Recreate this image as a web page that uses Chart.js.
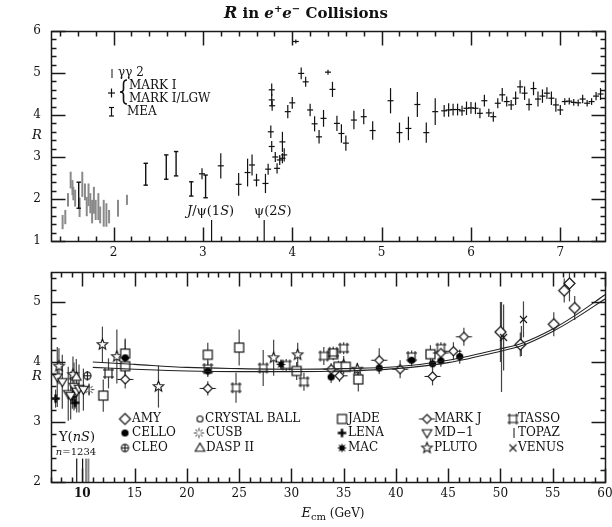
<!DOCTYPE html>
<html>
<head>
<meta charset="utf-8">
<title>R in e+e- Collisions</title>
<script src="https://cdn.jsdelivr.net/npm/chart.js@4.4.1/dist/chart.umd.min.js"></script>
<style>
  body { margin: 0; background: #fff; }
  #wrap { position: relative; width: 612px; height: 527px; }
  canvas { position: absolute; left: 0; }
  #top { top: 0; }
  #bottom { top: 262px; }
</style>
</head>
<body>
<div id="wrap">
  <canvas id="top" width="612" height="262"></canvas>
  <canvas id="bottom" width="612" height="265"></canvas>
</div>
<script>
// ---------- top panel, E from 1.3 to 7.5 GeV, rows are [E, R, error] ----------
const gg2 = [[1.43,1.45,0.17],[1.46,1.57,0.17],[1.49,1.98,0.16],[1.52,2.45,0.20],[1.54,2.27,0.18],
  [1.55,2.13,0.16],[1.57,2.02,0.20],[1.62,1.80,0.23],[1.65,2.35,0.30],[1.68,2.17,0.20],
  [1.70,1.82,0.23],[1.72,2.10,0.27],[1.74,1.90,0.24],[1.76,1.70,0.28],[1.78,1.97,0.32],
  [1.80,1.74,0.24],[1.83,1.82,0.32],[1.85,1.62,0.20],[1.89,1.66,0.32],[1.92,1.62,0.28],
  [1.95,1.58,0.16],[2.05,1.78,0.20],[2.15,1.98,0.12]];
const mea = [[1.61,2.09,0.31],[2.36,2.59,0.26],[2.59,2.76,0.29],[2.70,2.84,0.29],[2.87,2.24,0.17],[3.03,2.30,0.27]];
const markI = [[2.99,2.60,0.13],[3.20,2.79,0.30],[3.40,2.35,0.27],[3.50,2.63,0.33],[3.55,2.81,0.25],
  [3.60,2.45,0.15],[3.70,2.37,0.23],[3.73,2.71,0.13],[3.76,3.60,0.15],[3.77,3.25,0.13],
  [3.77,4.60,0.15],[3.77,4.36,0.15],[3.775,4.22,0.12],[3.81,3.00,0.12],[3.83,2.73,0.12],
  [3.86,2.93,0.12],[3.89,2.97,0.12],[3.89,3.36,0.24],[3.91,3.05,0.16],[3.95,4.08,0.16],
  [4.00,4.29,0.14],[4.04,5.75,0.05],[4.10,4.99,0.14],[4.15,4.79,0.12],[4.20,4.12,0.15],
  [4.25,3.79,0.18],[4.30,3.48,0.16],[4.35,3.92,0.20],[4.40,5.02,0.06],[4.45,4.61,0.18],
  [4.50,3.80,0.18],[4.55,3.56,0.22],[4.60,3.33,0.18],[4.69,3.88,0.22],[4.80,3.96,0.18],
  [4.90,3.63,0.22],[5.10,4.34,0.30],[5.20,3.58,0.24],[5.30,3.68,0.28],[5.40,4.25,0.30],
  [5.50,3.58,0.24],[5.60,4.08,0.32],[5.70,4.10,0.14],[5.75,4.12,0.16],[5.80,4.13,0.14],
  [5.85,4.13,0.14],[5.90,4.10,0.12],[5.95,4.16,0.16],[6.00,4.17,0.14],[6.05,4.16,0.14],
  [6.10,4.04,0.12],[6.15,4.34,0.14],[6.20,4.05,0.10],[6.25,3.96,0.12],[6.30,4.28,0.12],
  [6.35,4.48,0.16],[6.40,4.32,0.12],[6.45,4.24,0.12],[6.50,4.40,0.16],[6.55,4.67,0.16],
  [6.60,4.52,0.16],[6.65,4.25,0.14],[6.70,4.63,0.16],[6.75,4.38,0.18],[6.80,4.45,0.16],
  [6.85,4.52,0.14],[6.90,4.40,0.16],[6.95,4.24,0.16],[7.00,4.12,0.12],[7.05,4.32,0.08],
  [7.10,4.33,0.08],[7.15,4.30,0.08],[7.20,4.29,0.08],[7.25,4.38,0.10],[7.30,4.28,0.08],
  [7.35,4.32,0.08],[7.40,4.45,0.10],[7.45,4.50,0.14]];
const resonanceE = [3.097, 3.686];
const resonanceTopR = 1.5;
const topRangeX = [1.3, 7.5];
const topRangeY = [1, 6];
const topTicksX = [2, 3, 4, 5, 6, 7];
const topTicksY = [1, 2, 3, 4, 5, 6];

// ---------- bottom panel, E from 7 to 60 GeV ----------
const amy = [[50.0,4.50,0.50],[51.9,4.29,0.20],[55.1,4.63,0.20],[56.1,5.19,0.20],[56.6,5.31,0.30],[57.1,4.90,0.20]];
const crystalBall = [];
const jade = [[12.0,3.44,0.27],[14.1,4.14,0.25],[14.1,3.93,0.15],[22.0,4.12,0.20],[25.0,4.24,0.30],
  [30.5,3.85,0.15],[34.0,4.13,0.10],[34.5,3.92,0.10],[35.2,3.92,0.08],[36.4,3.71,0.20],[43.3,4.13,0.15]];
const markJ = [[14.1,3.71,0.15],[22.0,3.56,0.12],[33.8,3.88,0.10],[34.6,3.77,0.10],[38.4,4.03,0.20],
  [40.4,3.88,0.15],[43.5,3.76,0.15],[44.3,4.15,0.15],[45.5,4.18,0.15],[46.5,4.42,0.15]];
const tasso = [[12.5,3.81,0.25],[22.0,3.89,0.12],[24.7,3.57,0.25],[27.3,3.90,0.30],[29.5,3.95,0.10],
  [31.2,3.67,0.15],[33.1,4.10,0.15],[34.0,4.16,0.10],[35.0,4.23,0.10],[41.5,4.09,0.10],[44.3,4.23,0.10]];
const cello = [[14.1,4.07,0.30],[22.0,3.85,0.10],[33.8,3.75,0.10],[38.4,3.90,0.10],[41.5,4.03,0.10],
  [43.5,3.97,0.10],[44.3,4.02,0.10],[46.1,4.09,0.12]];
const cusb = [[10.64,3.54,0.10]];
const lena = [[7.44,3.39,0.15],[9.04,3.42,0.20],[9.30,3.32,0.10]];
const md1 = [[7.60,3.75,0.50],[8.08,3.67,0.45],[8.65,3.47,0.45],[8.88,3.44,0.40],[9.20,3.59,0.40],
  [9.46,3.51,0.35],[9.68,3.56,0.40],[10.10,3.54,0.35]];
const cleo = [[10.48,3.77,0.08]];
const daspII = [[9.42,3.75,0.30]];
const mac = [[29.0,3.96,0.08]];
const pluto = [[7.76,3.93,0.30],[9.10,3.79,0.30],[11.92,4.29,0.30],[13.3,4.09,0.45],[17.28,3.59,0.35],
  [28.3,4.07,0.30],[30.6,4.12,0.20],[35.0,3.95,0.15],[36.3,3.88,0.10]];
const topaz = [[50.1,4.25,0.75],[52.0,4.35,0.25]];
const venus = [[50.3,4.41,0.55],[52.2,4.71,0.30]];
const qcdE = [11, 15, 20, 25, 30, 35, 40, 45, 50, 52, 55, 57, 60];
const qcdHigh = [4.00, 3.96, 3.91, 3.89, 3.88, 3.89, 3.92, 4.03, 4.22, 4.31, 4.55, 4.76, 5.12];
const qcdLow = [3.91, 3.88, 3.85, 3.84, 3.84, 3.85, 3.89, 3.99, 4.18, 4.27, 4.51, 4.71, 5.05];
const upsilonE = [9.460, 10.023, 10.355, 10.579];
const upsilonTopR = 2.39;
const botRangeX = [7, 60];
const botRangeY = [2, 5.5];
const botTicksX = [10, 15, 20, 25, 30, 35, 40, 45, 50, 55, 60];
const botTicksY = [2, 3, 4, 5];

const SERIF = '"DejaVu Serif", "Liberation Serif", serif';
const INK = '#111';

// ---------- helpers ----------
function mk(size, draw) {
  const c = document.createElement('canvas');
  c.width = c.height = size;
  const g = c.getContext('2d');
  g.translate(size / 2, size / 2);
  g.strokeStyle = INK; g.fillStyle = '#fff'; g.lineWidth = 1.1;
  draw(g);
  return c;
}
function poly(g, pts) {
  g.beginPath();
  pts.forEach((p, i) => i ? g.lineTo(p[0], p[1]) : g.moveTo(p[0], p[1]));
  g.closePath();
}
function starPts(n, ro, ri) {
  const pts = [];
  for (let i = 0; i < 2 * n; i++) {
    const a = i * Math.PI / n, r = i % 2 ? ri : ro;
    pts.push([r * Math.sin(a), -r * Math.cos(a)]);
  }
  return pts;
}
function seg(ctx, x1, y1, x2, y2) { ctx.beginPath(); ctx.moveTo(x1, y1); ctx.lineTo(x2, y2); ctx.stroke(); }
const snap = v => Math.round(v) + 0.5;
function runs(ctx, parts, x, y, align) {
  let w = 0;
  parts.forEach(p => { ctx.font = p[1]; w += ctx.measureText(p[0]).width; });
  let cx = align === 'center' ? x - w / 2 : x;
  ctx.textAlign = 'left';
  parts.forEach(p => { ctx.font = p[1]; ctx.fillText(p[0], cx, y + (p[2] || 0)); cx += ctx.measureText(p[0]).width; });
}
const f = (s, st) => (st ? st + ' ' : '') + s + 'px ' + SERIF;

// tick positions (in tenths of a unit) for the inward tick marks
function tickList(range, minor10, major10) {
  const out = [];
  const lo = Math.ceil(range[0] * 10 - 1e-6), hi = Math.floor(range[1] * 10 + 1e-6);
  for (let k = lo; k <= hi; k++) {
    if (k % minor10 === 0) out.push([k / 10, k % major10 === 0]);
  }
  return out;
}

// box with inward ticks on all four sides
function drawFrame(chart, xs, ys) {
  const ctx = chart.ctx, a = chart.chartArea;
  const sx = chart.scales.x, sy = chart.scales.y;
  const L = snap(a.left), R = snap(a.right), T = snap(a.top), B = snap(a.bottom);
  ctx.save();
  ctx.strokeStyle = '#1a1a1a';
  ctx.lineWidth = 1.5;
  xs.forEach(([v, major]) => {
    const p = snap(sx.getPixelForValue(v)), len = major ? 14 : 5;
    seg(ctx, p, B, p, B - len);
    seg(ctx, p, T, p, T + len);
  });
  ys.forEach(([v, major]) => {
    const p = snap(sy.getPixelForValue(v)), len = major ? 14 : 5;
    seg(ctx, L, p, L + len, p);
    seg(ctx, R, p, R - len, p);
  });
  ctx.lineWidth = 1.5;
  ctx.strokeRect(L, T, R - L, B - T);
  ctx.restore();
}

const M = {
  amy: mk(15, g => { g.lineWidth = 1.2; poly(g, [[0,-5.5],[5.5,0],[0,5.5],[-5.5,0]]); g.fill(); g.stroke(); }),
  crystal: mk(11, g => { g.beginPath(); g.arc(0, 0, 3, 0, 7); g.fill(); g.stroke(); }),
  jade: mk(15, g => { g.lineWidth = 1.2; g.fillRect(-4.5, -4.5, 9, 9); g.strokeRect(-4.5, -4.5, 9, 9); }),
  markj: mk(19, g => { poly(g, [[0,-4.5],[4.5,0],[0,4.5],[-4.5,0]]); g.fill(); g.stroke();
    g.beginPath(); g.moveTo(-8, 0); g.lineTo(-4.5, 0); g.moveTo(4.5, 0); g.lineTo(8, 0); g.stroke(); }),
  tasso: mk(15, g => { g.fillRect(-3.5, -3.5, 7, 7); g.beginPath();
    [-3.5, 3.5].forEach(d => { g.moveTo(-5.5, d); g.lineTo(5.5, d); g.moveTo(d, -5.5); g.lineTo(d, 5.5); }); g.stroke(); }),
  cello: mk(11, g => { g.fillStyle = '#000'; g.beginPath(); g.arc(0, 0, 3.6, 0, 7); g.fill(); }),
  cusb: mk(13, g => { g.lineWidth = 0.9; g.beginPath();
    for (let k = 0; k < 8; k++) { const a = k * Math.PI / 4; g.moveTo(2 * Math.cos(a), 2 * Math.sin(a)); g.lineTo(5 * Math.cos(a), 5 * Math.sin(a)); }
    g.stroke(); }),
  cleo: mk(11, g => { g.beginPath(); g.arc(0, 0, 3.6, 0, 7); g.fill(); g.stroke();
    g.beginPath(); g.moveTo(-3.6, 0); g.lineTo(3.6, 0); g.moveTo(0, -3.6); g.lineTo(0, 3.6); g.stroke(); }),
  lena: mk(11, g => { g.fillStyle = '#000'; g.fillRect(-1.2, -4.2, 2.4, 8.4); g.fillRect(-4.2, -1.2, 8.4, 2.4); }),
  md1: mk(13, g => { poly(g, [[-4.8,-3.3],[4.8,-3.3],[0,4.8]]); g.fill(); g.stroke(); }),
  dasp: mk(13, g => { poly(g, [[-4.8,3.3],[4.8,3.3],[0,-4.8]]); g.fill(); g.stroke(); }),
  mac: mk(13, g => { g.fillStyle = '#000'; poly(g, starPts(8, 4.8, 2.4)); g.fill(); }),
  pluto: mk(15, g => { poly(g, starPts(5, 5.5, 2.4)); g.fill(); g.stroke(); }),
  venus: mk(11, g => { g.beginPath(); g.moveTo(-3.5, -3.5); g.lineTo(3.5, 3.5); g.moveTo(3.5, -3.5); g.lineTo(-3.5, 3.5); g.stroke(); })
};

function series(label, rows, style, err) {
  return {
    label, err,
    data: rows.map(([x, y, e]) => ({ x, y, e })),
    pointStyle: style || 'circle',
    pointRadius: style ? 4 : 0,
    borderColor: INK, backgroundColor: '#fff'
  };
}

function axes(xr, xt, yr, yt, xh) {
  const fit = (w, h) => s => {
    if (w) s.width = w;
    if (h) s.height = h;
    s.paddingLeft = s.paddingRight = s.paddingTop = s.paddingBottom = 0;
  };
  const tk = { font: { family: SERIF, size: 12 }, color: INK, autoSkip: false, maxRotation: 0 };
  return {
    x: { type: 'linear', min: xr[0], max: xr[1],
      afterBuildTicks: s => { s.ticks = xt.map(v => ({ value: v })); },
      afterFit: fit(0, xh), grid: { display: false, drawTicks: false }, border: { display: false },
      ticks: Object.assign({ padding: 5 }, tk) },
    y: { type: 'linear', min: yr[0], max: yr[1],
      afterBuildTicks: s => { s.ticks = yt.map(v => ({ value: v })); },
      afterFit: fit(51, 0), grid: { display: false, drawTicks: false }, border: { display: false },
      ticks: Object.assign({ padding: 10 }, tk) }
  };
}

// error bars, drawn under the markers
const errBars = {
  id: 'errBars',
  beforeDatasetsDraw(chart) {
    const { ctx, chartArea: a, scales: { x, y } } = chart;
    ctx.save();
    ctx.beginPath(); ctx.rect(a.left, a.top, a.right - a.left, a.bottom - a.top); ctx.clip();
    chart.data.datasets.forEach(ds => {
      if (!ds.err) return;
      ctx.strokeStyle = ds.err.color; ctx.lineWidth = ds.err.width;
      ds.data.forEach(p => {
        const px = x.getPixelForValue(p.x);
        const y1 = y.getPixelForValue(p.y - p.e), y2 = y.getPixelForValue(p.y + p.e);
        seg(ctx, px, y1, px, y2);
        if (ds.err.cap) {
          seg(ctx, px - ds.err.cap, y1, px + ds.err.cap, y1);
          seg(ctx, px - ds.err.cap, y2, px + ds.err.cap, y2);
        }
      });
    });
    ctx.restore();
  }
};

// ---------- top chart ----------
const topTickMarksX = tickList(topRangeX, 2, 10);
const topTickMarksY = tickList(topRangeY, 2, 10);

const topDecor = {
  id: 'topDecor',
  beforeDatasetsDraw(chart) {
    const { ctx, scales: { x, y } } = chart;
    ctx.save();
    ctx.strokeStyle = INK; ctx.lineWidth = 1.2;
    resonanceE.forEach(e => seg(ctx, x.getPixelForValue(e), y.getPixelForValue(1), x.getPixelForValue(e), y.getPixelForValue(resonanceTopR)));
    ctx.restore();
  },
  afterDatasetsDraw(chart) {
    const { ctx, chartArea: a } = chart;
    ctx.save();
    ctx.fillStyle = INK; ctx.textBaseline = 'alphabetic';
    runs(ctx, [['R', f(16, 'italic bold')], [' in ', f(15, 'bold')], ['e', f(15, 'italic bold')], ['+', f(10, 'bold'), -6],
      ['e', f(15, 'italic bold')], ['−', f(10, 'bold'), -6], [' Collisions', f(15, 'bold')]], 306, 18, 'center');
    ctx.textBaseline = 'middle';
    runs(ctx, [['R', f(13, 'italic')]], 37, (a.top + a.bottom) / 2, 'center');
    runs(ctx, [['J', f(13, 'italic')], ['/ψ(1', f(13)], ['S', f(13, 'italic')], [')', f(13)]], 187, 212);
    runs(ctx, [['ψ(2', f(13)], ['S', f(13, 'italic')], [')', f(13)]], 254, 212);
    ctx.strokeStyle = '#888'; ctx.lineWidth = 2;
    seg(ctx, 112, 69, 112, 78);
    ctx.strokeStyle = INK; ctx.lineWidth = 1.2;
    seg(ctx, 108, 93, 115, 93); seg(ctx, 111.5, 88.5, 111.5, 97.5);
    seg(ctx, 111.5, 107.5, 111.5, 116); seg(ctx, 109, 107.5, 114, 107.5); seg(ctx, 109, 116, 114, 116);
    ctx.lineWidth = 1.6;
    ctx.beginPath();
    const bx = 121, bt = 80, bb = 104, bm = 92;
    ctx.moveTo(bx + 6, bt); ctx.quadraticCurveTo(bx + 2.5, bt, bx + 2.5, bt + 4);
    ctx.lineTo(bx + 2.5, bm - 3); ctx.quadraticCurveTo(bx + 2.5, bm, bx - 1, bm);
    ctx.quadraticCurveTo(bx + 2.5, bm, bx + 2.5, bm + 3); ctx.lineTo(bx + 2.5, bb - 4);
    ctx.quadraticCurveTo(bx + 2.5, bb, bx + 6, bb);
    ctx.stroke();
    ctx.font = f(12);
    ctx.textAlign = 'left';
    ctx.fillText('γγ 2', 118, 73);
    ctx.fillText('MARK I', 129, 86);
    ctx.fillText('MARK I/LGW', 129, 99);
    ctx.fillText('MEA', 127, 112);
    ctx.restore();
    drawFrame(chart, topTickMarksX, topTickMarksY);
  }
};

new Chart(document.getElementById('top'), {
  type: 'scatter',
  data: {
    datasets: [
      series('γγ 2', gg2, null, { color: '#8a8a8a', width: 2 }),
      series('MEA', mea, null, { color: INK, width: 1.4, cap: 2.2 }),
      Object.assign(series('MARK I', markI, 'line', { color: INK, width: 1.2 }), { pointRadius: 3, borderWidth: 1.2 })
    ]
  },
  options: {
    responsive: false, animation: false, events: [],
    layout: { padding: { left: 0, right: 7, top: 31, bottom: 0 } },
    scales: axes(topRangeX, topTicksX, topRangeY, topTicksY, 21),
    plugins: { legend: { display: false }, tooltip: { enabled: false } }
  },
  plugins: [errBars, topDecor]
});

// ---------- bottom chart ----------
const botTickMarksX = tickList(botRangeX, 10, 50);
const botTickMarksY = tickList(botRangeY, 2, 10);

const legendRows = [
  [[M.amy, 'AMY', 125, 132], [M.crystal, 'CRYSTAL BALL', 200, 205], [M.jade, 'JADE', 342, 348], [M.markj, 'MARK J', 427, 434], [M.tasso, 'TASSO', 513, 518]],
  [[M.cello, 'CELLO', 125, 132], [M.cusb, 'CUSB', 199, 206], [M.lena, 'LENA', 342, 348], [M.md1, 'MD−1', 427, 434], ['|', 'TOPAZ', 514, 518]],
  [[M.cleo, 'CLEO', 125, 132], [M.dasp, 'DASP II', 200, 206], [M.mac, 'MAC', 342, 348], [M.pluto, 'PLUTO', 427, 434], [M.venus, 'VENUS', 513, 518]]
];
const legendRowY = [157, 171, 186];

const botDecor = {
  id: 'botDecor',
  beforeDatasetsDraw(chart) {
    const { ctx, scales: { x, y } } = chart;
    ctx.save();
    upsilonE.forEach((e, i) => {
      ctx.strokeStyle = i < 2 ? INK : '#888';
      ctx.lineWidth = i < 2 ? 1.2 : 2;
      seg(ctx, x.getPixelForValue(e), y.getPixelForValue(2), x.getPixelForValue(e), y.getPixelForValue(upsilonTopR));
    });
    ctx.restore();
  },
  afterDatasetsDraw(chart) {
    const { ctx, chartArea: a } = chart;
    ctx.save();
    ctx.fillStyle = INK; ctx.strokeStyle = INK; ctx.lineWidth = 1;
    ctx.textBaseline = 'middle';
    runs(ctx, [['R', f(13, 'italic')]], 37, (a.top + a.bottom) / 2, 'center');
    runs(ctx, [['Υ(', f(13)], ['nS', f(13, 'italic')], [')', f(13)]], 77, 176, 'center');
    runs(ctx, [['n', f(10, 'italic')], ['=1234', f(10)]], 76, 190, 'center');
    ctx.textBaseline = 'alphabetic';
    runs(ctx, [['E', f(13, 'italic')], ['cm', f(10), 3], [' (GeV)', f(12)]], 333, 255, 'center');
    ctx.textBaseline = 'middle';
    legendRows.forEach((row, r) => {
      const yy = legendRowY[r];
      row.forEach(([m, name, mx, tx]) => {
        if (m === '|') seg(ctx, mx, yy - 5, mx, yy + 5);
        else ctx.drawImage(m, mx - m.width / 2, yy - m.height / 2);
        ctx.font = f(12); ctx.textAlign = 'left';
        ctx.fillText(name, tx, yy);
      });
    });
    ctx.restore();
    drawFrame(chart, botTickMarksX, botTickMarksY);
  }
};

const bar = { color: '#444', width: 1.2 };
const qcdLine = (vals) => ({
  label: 'QCD', data: qcdE.map((e, i) => ({ x: e, y: vals[i] })), showLine: true,
  borderColor: '#222', borderWidth: 1.1, pointRadius: 0, cubicInterpolationMode: 'monotone'
});

const botScales = axes(botRangeX, botTicksX, botRangeY, botTicksY, 45);
botScales.x.ticks.font = c => ({ family: SERIF, size: 12, weight: c.tick && c.tick.value === 10 ? 'bold' : 'normal' });

new Chart(document.getElementById('bottom'), {
  type: 'scatter',
  data: {
    datasets: [
      qcdLine(qcdHigh), qcdLine(qcdLow),
      series('TOPAZ', topaz, null, bar),
      series('VENUS', venus, M.venus, bar),
      series('MD-1', md1, M.md1, bar),
      series('LENA', lena, M.lena, bar),
      series('DASP II', daspII, M.dasp, bar),
      series('CLEO', cleo, M.cleo, bar),
      series('CUSB', cusb, M.cusb, bar),
      series('CRYSTAL BALL', crystalBall, M.crystal, bar),
      series('MARK J', markJ, M.markj, bar),
      series('MAC', mac, M.mac, bar),
      series('CELLO', cello, M.cello, bar),
      series('TASSO', tasso, M.tasso, bar),
      series('JADE', jade, M.jade, bar),
      series('PLUTO', pluto, M.pluto, bar),
      series('AMY', amy, M.amy, bar)
    ]
  },
  options: {
    responsive: false, animation: false, events: [],
    layout: { padding: { left: 0, right: 7, top: 10, bottom: 0 } },
    scales: botScales,
    plugins: { legend: { display: false }, tooltip: { enabled: false } }
  },
  plugins: [errBars, botDecor]
});
</script>
</body>
</html>
